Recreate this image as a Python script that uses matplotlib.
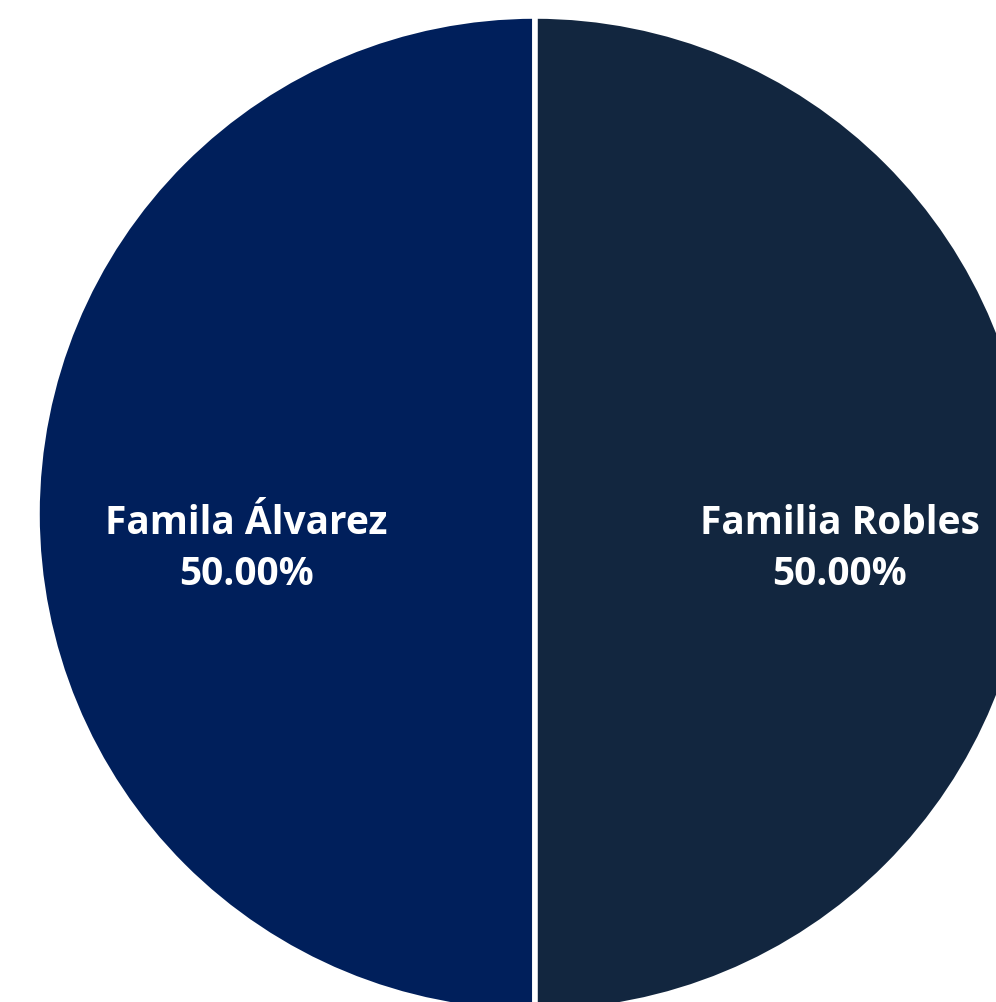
import matplotlib.pyplot as plt

# Shares of each family
familias = ['Famila Álvarez', 'Familia Robles']
porcentajes = [50.0, 50.0]
colores = ['#001F5B', '#12263F']

fig = plt.figure(figsize=(9.96, 10.03), dpi=100)
ax = fig.add_axes([0, 0, 1, 1])

etiquetas = [f'{f}\n{p:.2f}%' for f, p in zip(familias, porcentajes)]
wedges, texts = ax.pie(porcentajes, labels=etiquetas, colors=colores,
                       startangle=90, counterclock=True,
                       center=(535, 488), radius=498, frame=True,
                       labeldistance=0.596,
                       wedgeprops=dict(edgecolor='white', linewidth=4),
                       textprops=dict(color='white', fontsize=28,
                                      fontweight='bold', family='Open Sans',
                                      linespacing=1.4))
for t in texts:
    x, y = t.get_position()
    t.set_position((x + 8, y - 34))
    t.set_ha('center')
    t.set_va('center')

ax.set_xlim(0, 996)
ax.set_ylim(0, 1003)
ax.set_aspect('equal')
ax.axis('off')
fig.savefig('out.png', dpi=100)
